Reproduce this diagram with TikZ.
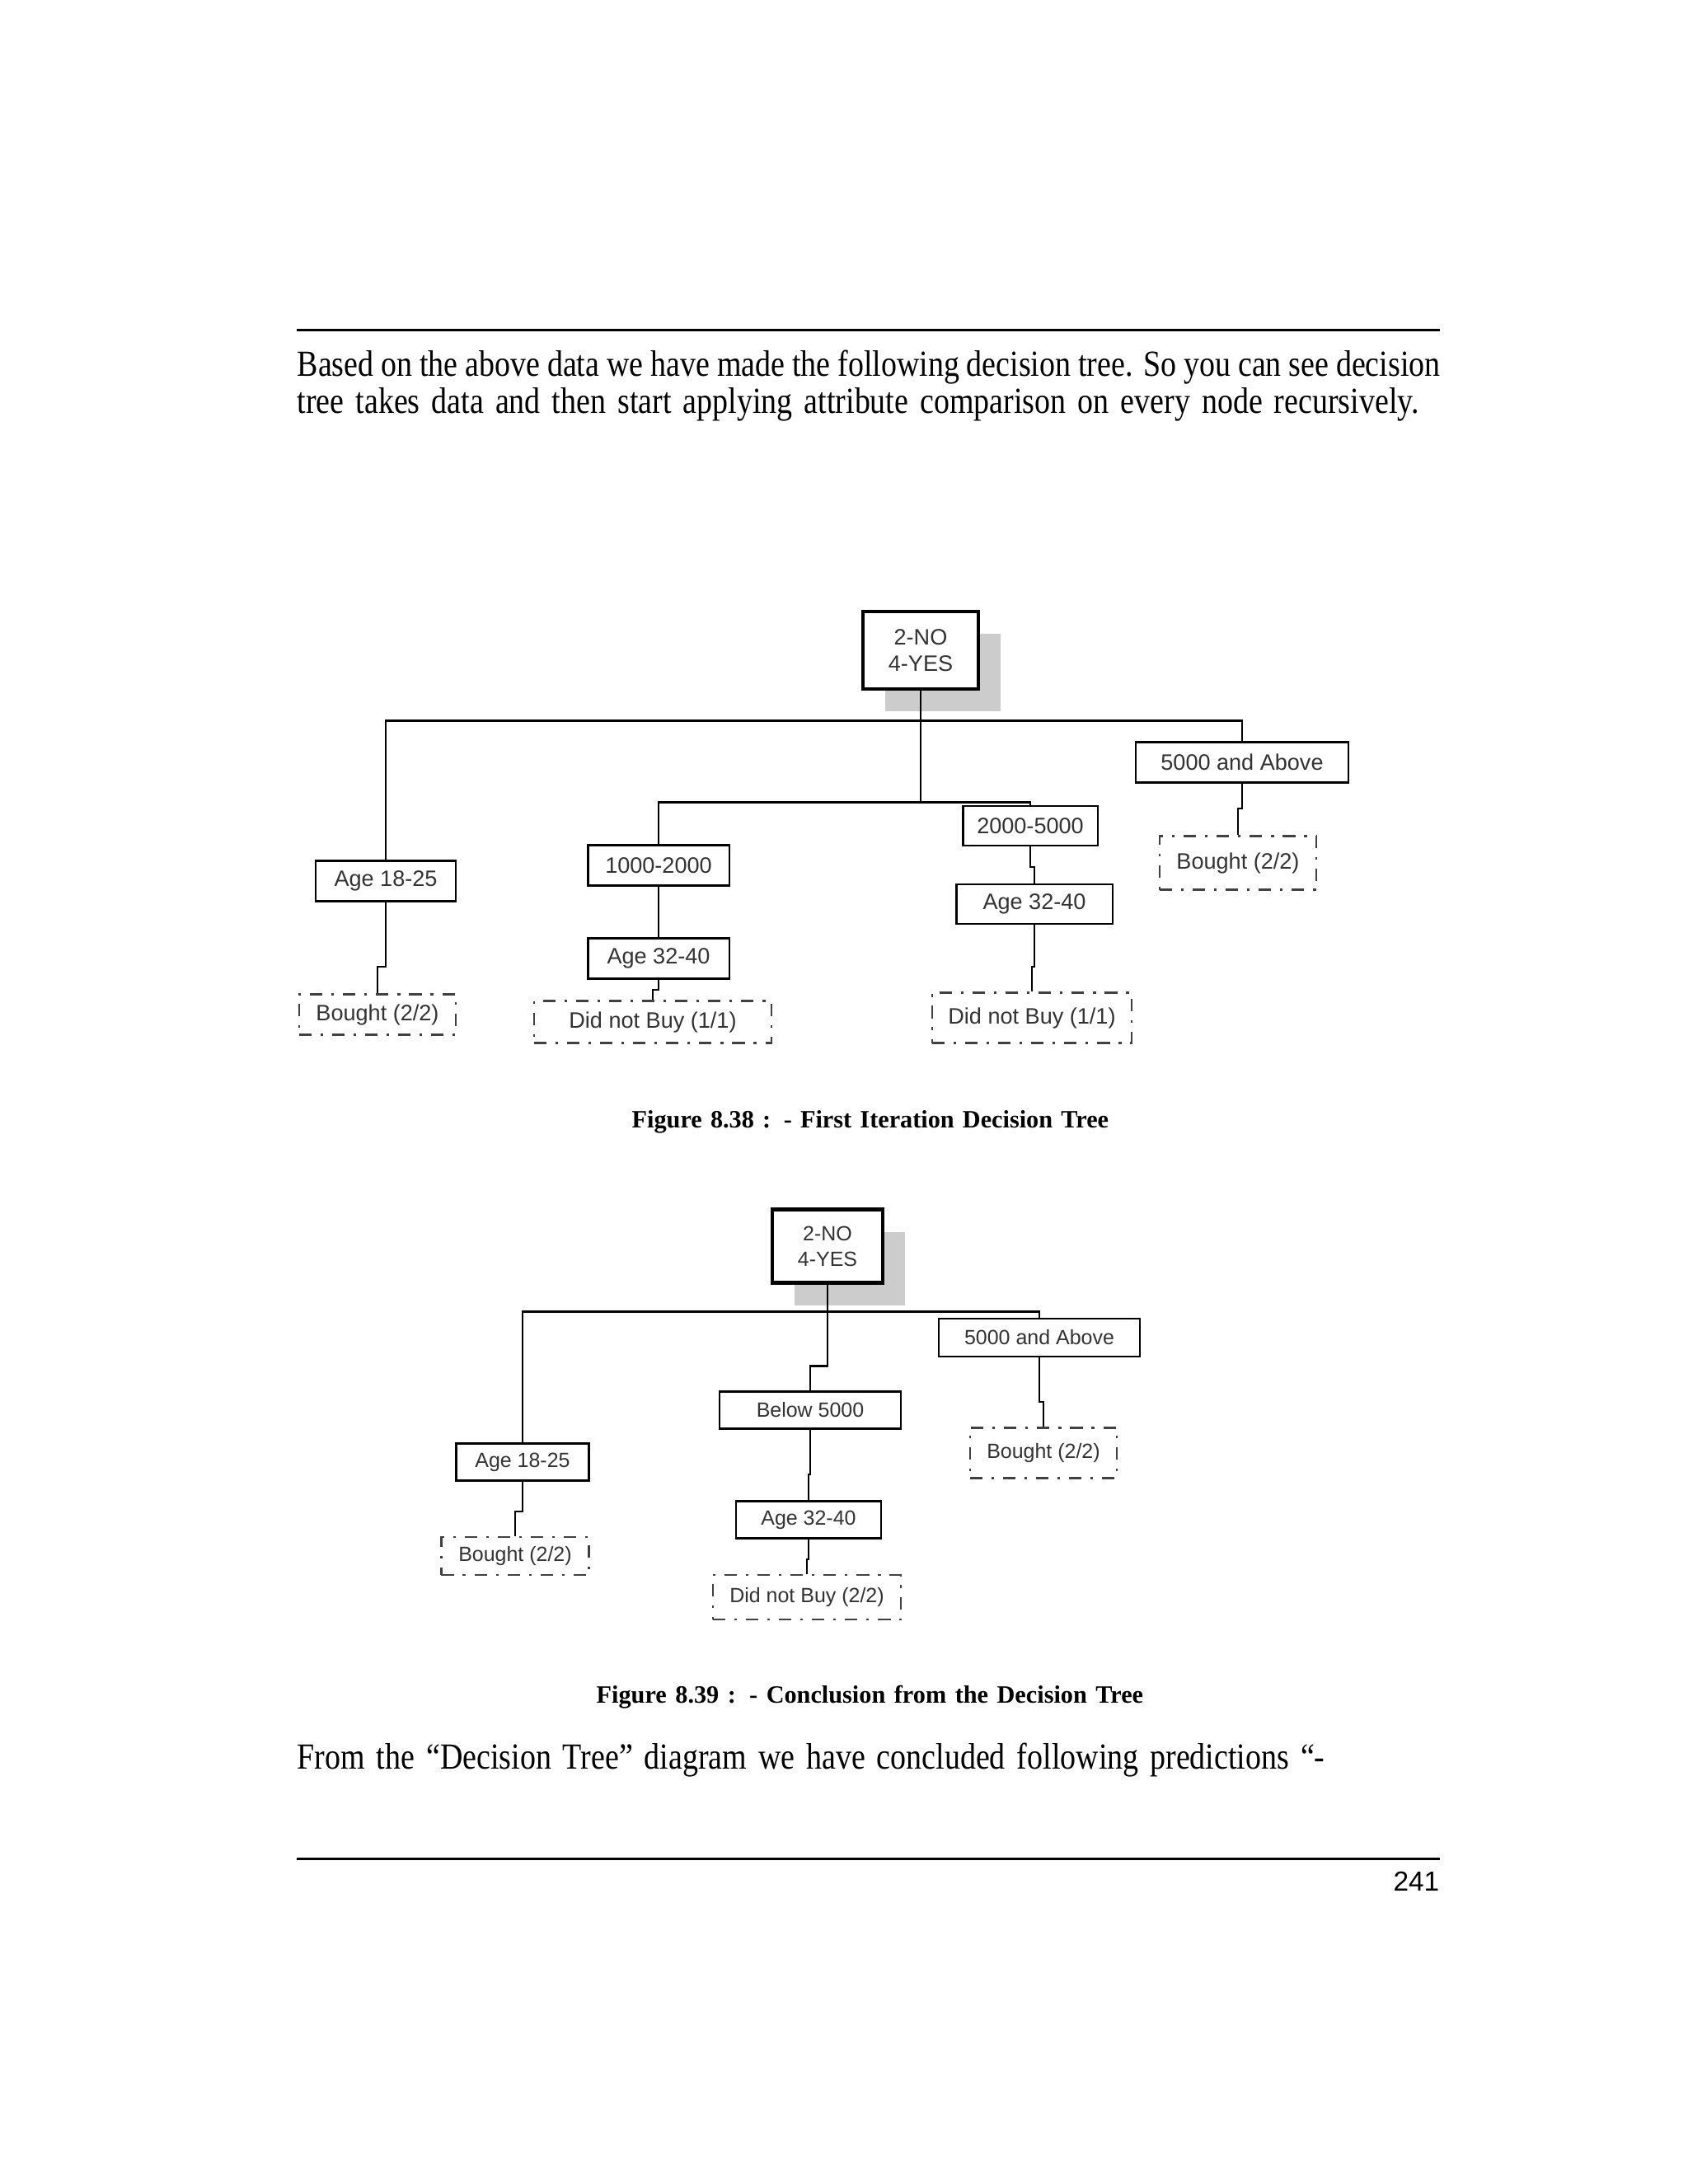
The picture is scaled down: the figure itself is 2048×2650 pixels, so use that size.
\documentclass[tikz,border=0pt]{standalone}
\usepackage{fontspec}
\setmainfont{Liberation Serif}
\newfontfamily\bodyfont[FakeStretch=0.85]{Liberation Serif}
\newfontfamily\capfont[FakeStretch=1.0]{Liberation Serif}
\newfontfamily\boxfont{Liberation Sans}
\usetikzlibrary{shadows}

\begin{document}
\begin{tikzpicture}[
                    x=0.01cm, y=-0.01cm,
                    box style/.style={
                        rectangle,
                        draw=black,
                        line width=0.6pt,
                        fill=white,
                        text=black!80,
                        align=center,
                        inner sep=0pt,
                        minimum height=0.49cm
                    },
                    leaf style/.style={
                        box style,
                        draw=black!75,
                        line width=0.75pt,
                        dash pattern=on 4.3pt off 3.1pt on 0.9pt off 3.1pt
                    },
                    root style/.style={
                        box style,
                        line width=1.2pt,
                        drop shadow={shadow xshift=0.27cm, shadow yshift=-0.27cm,
                                     fill=black!20, opacity=1}
                    },
                    first tree/.style={font=\boxfont\fontsize{7.7}{9.1}\selectfont},
                    second tree/.style={font=\boxfont\fontsize{7.1}{8.8}\selectfont},
                    page text/.style={anchor=base west, inner sep=0pt,
                        font=\bodyfont\fontsize{12.7}{15}\selectfont},
                    caption text/.style={anchor=base west, inner sep=0pt,
                        font=\capfont\bfseries\fontsize{8.6}{10}\selectfont},
                    link style/.style={draw, line width=0.55pt, black},
                    root link/.style={link style, line width=0.8pt}
                ]
                    \fill[white] (0,0) rectangle (2048,2650);
                    \useasboundingbox (0,0) rectangle (2048,2650);

                    % page text and rules
                    \draw[line width=0.85pt] (360,400) -- (1747,400);
                    \node[page text] (introa) at (360,456) {\makebox[13.86cm][s]{Based on the above data we have made the following decision tree. So you can see decision}};
                    \node[page text] (introb) at (360,501) {\makebox[13.60cm][s]{tree takes data and then start applying attribute comparison on every node recursively.}};
                    \node[caption text] (capa) at (766,1368) {\makebox[5.78cm][s]{Figure 8.38 : - First Iteration Decision Tree}};
                    \node[caption text] (capb) at (723,2066) {\makebox[6.63cm][s]{Figure 8.39 : - Conclusion from the Decision Tree}};
                    \node[page text] (outro) at (360,2146) {\makebox[12.46cm][s]{From the “Decision Tree” diagram we have concluded following predictions “-}};
                    \draw[line width=0.85pt] (360,2255) -- (1747,2255);
                    \node[anchor=base east, inner sep=0pt, font=\boxfont\fontsize{9.5}{11}\selectfont] (pagenum) at (1747,2294) {241};

                    % first tree
                    \begin{scope}[first tree]
                        \node[root style, minimum width=1.40cm, minimum height=0.94cm] (roota) at (1117,789) {2-NO\\4-YES};
                        \node[box style, minimum width=1.70cm] (agea) at (468,1069) {Age 18-25};
                        \node[leaf style, minimum width=1.90cm] (boughta) at (458,1231) {Bought (2/2)};
                        \node[box style, minimum width=1.71cm] (rangea) at (799,1050) {1000-2000};
                        \node[box style, minimum width=1.71cm] (ageb) at (799,1163) {Age 32-40};
                        \node[leaf style, minimum width=2.88cm, minimum height=0.51cm] (notbuya) at (792,1240) {Did not Buy (1/1)};
                        \node[box style, minimum width=1.63cm, minimum height=0.48cm] (rangeb) at (1250,1002) {2000-5000};
                        \node[box style, minimum width=1.89cm, minimum height=0.48cm] (agec) at (1255,1097) {Age 32-40};
                        \node[leaf style, minimum width=2.42cm, minimum height=0.61cm] (notbuyb) at (1252,1235) {Did not Buy (1/1)};
                        \node[box style, minimum width=2.57cm] (fivea) at (1507,925) {5000 and Above};
                        \node[leaf style, minimum width=1.90cm, minimum height=0.65cm] (boughtb) at (1502,1047) {Bought (2/2)};
                    \end{scope}
                    \draw[root link] (roota.south) -- ++(0,36) -| (agea.north);
                    \draw[root link] (roota.south) -- ++(0,36) -| (fivea.north);
                    \draw[root link] (roota.south) -- ++(0,135) -| (rangea.north);
                    \draw[root link] (roota.south) -- ++(0,135) -| (rangeb.north);
                    \draw[link style] (agea.south) -- ++(0,78) -| (boughta.north);
                    \draw[link style] (rangea.south) -- (ageb.north);
                    \draw[link style] (ageb.south) -- ++(0,12) -| (notbuya.north);
                    \draw[link style] (rangeb.south) -- ++(0,25) -| (agec.north);
                    \draw[link style] (agec.south) -- ++(0,51) -| (notbuyb.north);
                    \draw[link style] (fivea.south) -- ++(0,30) -| (boughtb.north);

                    % second tree
                    \begin{scope}[second tree]
                        \node[root style, minimum width=1.34cm, minimum height=0.89cm] (rootb) at (1004,1512) {2-NO\\4-YES};
                        \node[box style, minimum width=1.61cm, minimum height=0.45cm] (aged) at (634,1774) {Age 18-25};
                        \node[leaf style, minimum width=1.79cm, minimum height=0.46cm] (boughtc) at (625,1888) {Bought (2/2)};
                        \node[box style, minimum width=2.19cm, minimum height=0.45cm] (belowa) at (983,1711) {Below 5000};
                        \node[box style, minimum width=1.76cm, minimum height=0.45cm] (agee) at (981,1844) {Age 32-40};
                        \node[leaf style, minimum width=2.28cm, minimum height=0.54cm] (notbuyc) at (979,1938) {Did not Buy (2/2)};
                        \node[box style, minimum width=2.43cm, minimum height=0.46cm] (fiveb) at (1261,1623) {5000 and Above};
                        \node[leaf style, minimum width=1.78cm, minimum height=0.61cm] (boughtd) at (1266,1763) {Bought (2/2)};
                    \end{scope}
                    \draw[root link] (rootb.south) -- ++(0,33) -| (aged.north);
                    \draw[root link] (rootb.south) -- ++(0,33) -| (fiveb.north);
                    \draw[root link] (rootb.south) -- ++(0,99) -| (belowa.north);
                    \draw[link style] (aged.south) -- ++(0,36) -| (boughtc.north);
                    \draw[link style] (belowa.south) -- ++(0,54) -| (agee.north);
                    \draw[link style] (agee.south) -- ++(0,24) -| (notbuyc.north);
                    \draw[link style] (fiveb.south) -- ++(0,54) -| (boughtd.north);
                \end{tikzpicture}
\end{document}
